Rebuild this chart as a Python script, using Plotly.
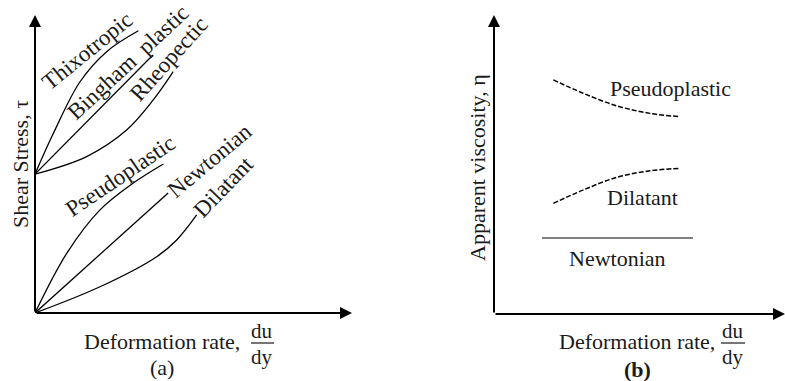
import plotly.graph_objects as go

W, H = 785, 381
FONT = "Liberation Serif"
FS = 22
FSL = 23

# ---------- Panel (a): shear stress vs deformation rate ----------
thixo_x = [0, 0.58, 1.42, 2.26, 3.26]
thixo_y = [4.66, 6.03, 7.76, 8.77, 9.47]
bingham_x = [0, 3.72]
bingham_y = [4.66, 8.66]
rheo_x = [0, 1.63, 2.89, 3.73, 4.36]
rheo_y = [4.66, 5.25, 6.14, 7.15, 8.10]
pseudo_x = [0, 1.0, 2.05, 3.10, 4.05]
pseudo_y = [0, 2.0, 3.46, 4.36, 5.0]
newt_x = [0, 4.2]
newt_y = [0, 4.03]
dil_x = [0, 2.05, 3.84, 4.47, 5.10]
dil_y = [0, 0.88, 1.89, 2.45, 3.29]

labels_a = ["Thixotropic", "Bingham\u00a0\u00a0plastic", "Rheopectic",
            "Pseudoplastic", "Newtonian", "Dilatant"]
labels_a_x = [1.67, 2.93, 4.20, 2.71, 5.52, 5.96]
labels_a_y = [8.80, 8.42, 8.52, 4.62, 5.12, 4.25]
labels_a_ang = [-39, -43, -48, -34, -40, -46]

# ---------- Panel (b): apparent viscosity vs deformation rate ----------
pv_x = [2.04, 3.07, 4.22, 5.36, 6.39]
pv_y = [7.83, 7.38, 6.96, 6.71, 6.60]
dv_x = [2.04, 3.07, 4.22, 5.36, 6.39]
dv_y = [3.70, 4.15, 4.57, 4.79, 4.87]
nv_x = [1.65, 6.84]
nv_y = [2.54, 2.54]

labels_b = ["Pseudoplastic", "Dilatant", "Newtonian"]
labels_b_x = [6.08, 5.09, 4.23]
labels_b_y = [7.53, 3.91, 1.87]

fig = go.Figure()

def line(x, y, xa, ya, color="black", width=1.3, dash=None, shape="spline"):
    fig.add_trace(go.Scatter(x=x, y=y, mode="lines", xaxis=xa, yaxis=ya,
                             line=dict(color=color, width=width, dash=dash,
                                       shape=shape, smoothing=1.0),
                             hoverinfo="skip", showlegend=False))

for xs, ys in [(thixo_x, thixo_y), (bingham_x, bingham_y), (rheo_x, rheo_y),
               (pseudo_x, pseudo_y), (newt_x, newt_y), (dil_x, dil_y)]:
    line(xs, ys, "x", "y")

line(pv_x, pv_y, "x2", "y2", dash="5px,2px", width=1.5)
line(dv_x, dv_y, "x2", "y2", dash="5px,2px", width=1.5)
line(nv_x, nv_y, "x2", "y2", color="#555555", width=1.5, shape="linear")

TXT = "#1a1a1a"
ann = []
for t, x, y, a in zip(labels_a, labels_a_x, labels_a_y, labels_a_ang):
    ann.append(dict(text=t, x=x, y=y, xref="x", yref="y", textangle=a,
                    xanchor="center", yanchor="middle",
                    showarrow=False, font=dict(family=FONT, size=FSL, color=TXT)))
for t, x, y in zip(labels_b, labels_b_x, labels_b_y):
    ann.append(dict(text=t, x=x, y=y, xref="x2", yref="y2",
                    xanchor="center", yanchor="middle",
                    showarrow=False, font=dict(family=FONT, size=FS, color=TXT)))

# axis arrows
for xr, yr in [("x", "y"), ("x2", "y2")]:
    ann.append(dict(x=0, y=10, ax=0, ay=0, xref=xr, yref=yr, axref=xr, ayref=yr,
                    showarrow=True, arrowhead=2, arrowsize=1.2, arrowwidth=2,
                    arrowcolor="black", text=""))
    ann.append(dict(x=10, y=0, ax=0, ay=0, xref=xr, yref=yr, axref=xr, ayref=yr,
                    showarrow=True, arrowhead=2, arrowsize=1.2, arrowwidth=2,
                    arrowcolor="black", text=""))

def pt(text, px, py, angle=0, size=FS):
    ann.append(dict(text=text, x=px / W, y=1 - py / H, xref="paper", yref="paper",
                    xanchor="center", yanchor="middle",
                    showarrow=False, textangle=angle,
                    font=dict(family=FONT, size=size, color=TXT)))

pt("Shear Stress, \u03c4", 20, 164, -90)
pt("Apparent viscosity, \u03b7", 477, 168, -90)
pt("Deformation rate,", 162, 341)
pt("du", 262, 331, size=21)
pt("dy", 262, 357, size=21)
pt("(a)", 162, 367)
pt("Deformation rate,", 637, 341)
pt("du", 733, 331, size=21)
pt("dy", 733, 357, size=21)
pt("<b>(b)</b>", 637, 369)

shapes = [
    dict(type="line", xref="paper", yref="paper", x0=251 / W, x1=274 / W,
         y0=1 - 343 / H, y1=1 - 343 / H, line=dict(color=TXT, width=1.2)),
    dict(type="line", xref="paper", yref="paper", x0=721 / W, x1=745 / W,
         y0=1 - 343 / H, y1=1 - 343 / H, line=dict(color=TXT, width=1.2)),
]

ax_common = dict(showgrid=False, zeroline=False, showticklabels=False,
                 showline=False, ticks="", fixedrange=True)
fig.update_layout(
    width=W, height=H, margin=dict(l=0, r=0, t=0, b=0),
    paper_bgcolor="white", plot_bgcolor="white",
    xaxis=dict(domain=[35 / W, 352 / W], range=[0, 10], **ax_common),
    yaxis=dict(domain=[1 - 313 / H, 1 - 15 / H], range=[0, 10], **ax_common),
    xaxis2=dict(domain=[494 / W, 1.0], range=[0, 10], anchor="y2", **ax_common),
    yaxis2=dict(domain=[1 - 314 / H, 1 - 15 / H], range=[0, 10], anchor="x2", **ax_common),
    annotations=ann, shapes=shapes, showlegend=False,
)

fig.write_html("out.html", config={"displayModeBar": False},
               post_script="document.body.style.margin='0';document.body.style.overflow='hidden';")
